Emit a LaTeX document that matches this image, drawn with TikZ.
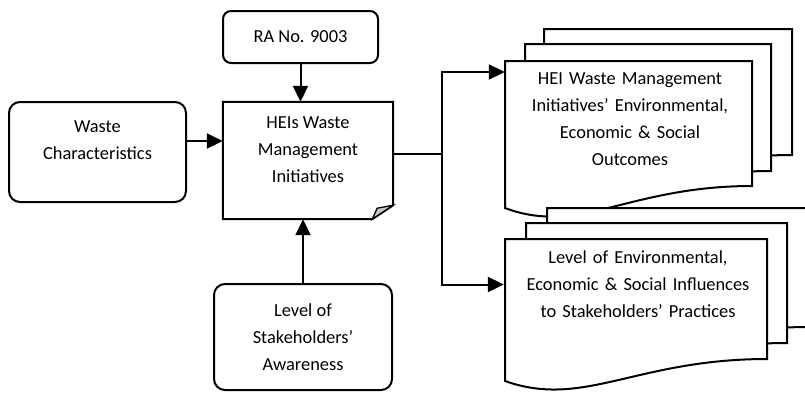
\documentclass[tikz,border=0pt]{standalone}
\usepackage{fontspec}
\setmainfont{Carlito}
\usetikzlibrary{arrows.meta}

% hoja de documento con borde ondulado: x1, arriba, x2, abajo derecha
\newcommand\docsheet[4]{%
	\filldraw[docline] (#1,#2) -- (#3,#2) -- (#3,#4)
		.. controls ({#1+0.5*(#3-#1)},#4) and ({#1+0.3*(#3-#1)},{#4+50}) .. (#1,{#4+22}) -- cycle;}

\begin{document}
\begin{tikzpicture}[x=1pt,y=-1pt,
	font=\fontsize{18.4}{27}\selectfont,
	box/.style={draw,line width=2pt,rounded corners=11pt,align=center},
	docline/.style={draw,fill=white,line width=2pt},
	doctext/.style={align=center,inner sep=0pt},
	arr/.style={line width=2pt,-{Triangle[length=16pt,width=15pt]}}]
	\useasboundingbox (0,0) rectangle (805,392);
	\clip (0,0) rectangle (805,392);

	\node[box,rounded corners=8pt,minimum width=155pt,minimum height=52pt] (ra) at (300.5,37) {RA No. 9003};
	\node[align=center,minimum width=170pt,minimum height=117pt,text depth=21pt] (hei) at (308,160.5)
		{HEIs Waste\\Management\\Initiatives};
	\node[box,minimum width=177pt,minimum height=100pt,text depth=23pt] (waste) at (97.5,152)
		{Waste\\Characteristics};
	\node[box,minimum width=178pt,minimum height=106pt] (aware) at (303,337)
		{Level of\\Stakeholders’\\Awareness};

	% caja con esquina doblada
	\draw[line width=2pt] (hei.north west) -- (hei.north east) -- ([yshift=14pt]hei.south east)
		-- ([xshift=-21pt]hei.south east) -- (hei.south west) -- cycle;
	\filldraw[fill=gray!45,line width=1.3pt] ([yshift=14pt]hei.south east) -- ([xshift=-21pt]hei.south east)
		-- ([xshift=-16pt,yshift=11pt]hei.south east) -- cycle;

	% pilas de documentos
	\docsheet{544}{29}{792}{155}
	\docsheet{525}{44}{771}{171}
	\docsheet{505}{61}{752}{186}
	\docsheet{547}{208}{809}{327}
	\docsheet{526}{223}{787}{343}
	\docsheet{505}{239}{767}{359}

	\node[doctext,text width=247pt] (outc) at (630,119.5)
		{HEI Waste Management\\Initiatives’ Environmental,\\Economic \& Social\\Outcomes};
	\node[doctext,text width=262pt] (infl) at (638,284.5)
		{Level of Environmental,\\Economic \& Social Influences\\to Stakeholders’ Practices};

	\draw[arr] (ra.south) -- (ra.south |- hei.north);
	\draw[arr] ([yshift=11pt]waste.east) -- ([yshift=11pt]waste.east -| hei.west);
	\draw[arr] (aware.north) -- (aware.north |- hei.south);

	\coordinate (split) at ([xshift=49pt,yshift=6.5pt]hei.east);
	\draw[line width=2pt] (hei.east |- split) -- (split);
	\draw[arr] (split) |- ([yshift=47.5pt,xshift=-1.5pt]outc.west);
	\draw[arr] (split) |- ([xshift=-3pt]infl.west);
\end{tikzpicture}
\end{document}
